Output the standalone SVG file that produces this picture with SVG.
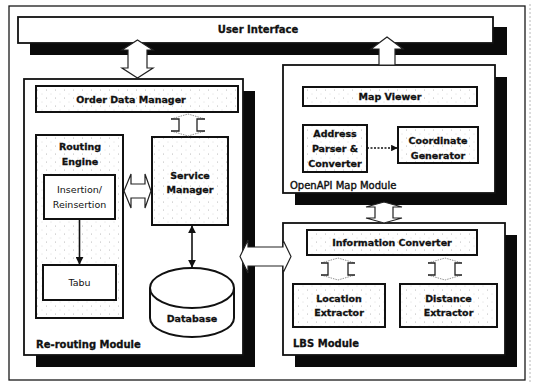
<svg xmlns="http://www.w3.org/2000/svg" width="535" height="383" viewBox="0 0 535 383">
  <style>
    .frame { fill: none; stroke: #1a1a1a; stroke-width: 1.3; }
    .module { fill: #fff; stroke: #111; stroke-width: 1.8; }
    .shadow { fill: #0a0a0a; }
    .box { fill: url(#stipple); stroke: #111; stroke-width: 2; }
    .plain { fill: #fff; stroke: #111; stroke-width: 2; }
    .hollow { fill: #fff; stroke: #222; stroke-width: 1.2; }
    .tip { fill: none; stroke: #888; stroke-width: 0.9; stroke-dasharray: 1.5 1; }
    .brk { fill: none; stroke: #222; stroke-width: 1.3; }
    .link { fill: none; stroke: #111; stroke-width: 1.6; }
    text { font-family: "DejaVu Sans", Verdana, sans-serif; fill: #111; }
    .b { font-weight: bold; font-size: 9.5px; text-anchor: middle; stroke: #111; stroke-width: 0.3; }
    .r { font-size: 9.5px; text-anchor: middle; }
    .lbl { font-weight: bold; font-size: 10px; stroke: #111; stroke-width: 0.3; }
  </style>
  <defs>
    <pattern id="stipple" width="9" height="8" patternUnits="userSpaceOnUse">
      <rect width="9" height="8" fill="#fff"/>
      <circle cx="1.5" cy="2" r="0.5" fill="#a5a5a5"/>
      <circle cx="6" cy="6" r="0.45" fill="#bbb"/>
    </pattern>
    <marker id="head" viewBox="0 0 10 10" refX="9" refY="5" markerWidth="5" markerHeight="5" orient="auto-start-reverse">
      <path d="M0,0 L10,5 L0,10 z" fill="#111"/>
    </marker>
  </defs>

  <!-- outer frame -->
  <rect class="frame" x="9" y="6" width="516" height="374"/>
  <line x1="530" y1="4" x2="530" y2="383" stroke="#b5b5b5" stroke-width="1" stroke-dasharray="2 2"/>

  <!-- User Interface -->
  <g id="user-interface">
    <rect class="shadow" x="30" y="27" width="477" height="28"/>
    <rect class="module" x="18" y="17" width="475" height="26"/>
    <text class="lbl" x="258" y="33" text-anchor="middle">User Interface</text>
  </g>

  <!-- Re-routing Module -->
  <g id="rerouting-module">
    <rect class="shadow" x="36" y="91" width="219" height="276"/>
    <rect class="module" x="24" y="79" width="219" height="276"/>
    <text class="lbl" x="36" y="348">Re-routing Module</text>
  </g>
  <g id="order-data-manager">
    <rect class="box" x="36" y="86" width="202" height="26"/>
    <text class="b" x="131" y="103">Order Data Manager</text>
  </g>
  <g id="routing-engine">
    <rect class="box" x="36" y="135" width="87" height="183"/>
    <text class="b" x="80" y="150">Routing</text>
    <text class="b" x="80" y="165">Engine</text>
  </g>
  <g id="insertion">
    <rect class="plain" x="44" y="175" width="71" height="44"/>
    <text class="r" x="79.5" y="193">Insertion/</text>
    <text class="r" x="79.5" y="208">Reinsertion</text>
  </g>
  <g id="tabu">
    <rect class="plain" x="43" y="265" width="73" height="35"/>
    <text class="r" x="79.5" y="286">Tabu</text>
  </g>
  <g id="service-manager">
    <rect class="box" x="152" y="137" width="76" height="88"/>
    <text class="b" x="190" y="179">Service</text>
    <text class="b" x="190" y="193">Manager</text>
  </g>
  <g id="database">
    <path class="plain" d="M150,288 L150,318 A42,19 0 0 0 234,318 L234,288"/>
    <ellipse class="plain" cx="192" cy="288" rx="42" ry="20"/>
    <text class="b" x="192" y="322">Database</text>
  </g>

  <!-- OpenAPI Map Module -->
  <g id="openapi-map-module">
    <rect class="shadow" x="295" y="77" width="212" height="128"/>
    <rect class="module" x="283" y="65" width="212" height="128"/>
    <text x="290" y="189" font-size="10" stroke="#111" stroke-width="0.4">OpenAPI Map Module</text>
  </g>
  <g id="map-viewer">
    <rect class="box" x="303" y="87" width="174" height="19"/>
    <text class="b" x="390" y="100">Map Viewer</text>
  </g>
  <g id="address-parser">
    <rect class="box" x="303" y="125" width="64" height="47"/>
    <text class="b" x="335" y="137">Address</text>
    <text class="b" x="335" y="152">Parser &amp;</text>
    <text class="b" x="335" y="167">Converter</text>
  </g>
  <g id="coordinate-generator">
    <rect class="box" x="398" y="127" width="80" height="36"/>
    <text class="b" x="438" y="144">Coordinate</text>
    <text class="b" x="438" y="159">Generator</text>
  </g>

  <!-- LBS Module -->
  <g id="lbs-module">
    <rect class="shadow" x="295" y="235" width="222" height="132"/>
    <rect class="module" x="283" y="223" width="222" height="132"/>
    <text class="lbl" x="293" y="347">LBS Module</text>
  </g>
  <g id="information-converter">
    <rect class="box" x="307" y="230" width="170" height="25"/>
    <text class="b" x="392" y="246">Information Converter</text>
  </g>
  <g id="location-extractor">
    <rect class="box" x="293" y="284" width="92" height="43"/>
    <text class="b" x="339" y="302">Location</text>
    <text class="b" x="339" y="316">Extractor</text>
  </g>
  <g id="distance-extractor">
    <rect class="box" x="400" y="284" width="97" height="43"/>
    <text class="b" x="448.5" y="302">Distance</text>
    <text class="b" x="448.5" y="316">Extractor</text>
  </g>

  <!-- connectors -->
  <g id="connectors">
    <!-- User Interface <-> Order Data Manager -->
    <path class="hollow" d="M137.5,40 L153,50 L147,50 L147,68 L153,68 L137.5,78 L122,68 L128,68 L128,50 L122,50 Z"/>
    <!-- Map module -> User Interface -->
    <path class="hollow" d="M387,37 L403,49 L395,49 L395,65 L379,65 L379,49 L371,49 Z"/>
    <!-- Re-routing Module <-> LBS Module -->
    <path class="hollow" d="M240,256.5 L248,240 L248,247 L283,247 L283,240 L291,256.5 L283,273 L283,266 L248,266 L248,273 Z"/>
    <!-- Routing Engine <-> Service Manager -->
    <path class="hollow" d="M124,191 L131,174 L131,184 L145,184 L145,174 L151,191 L145,208 L145,198 L131,198 L131,208 Z"/>
    <!-- Map module <-> LBS Module -->
    <path class="hollow" d="M384,202 L402,207 L393,207 L393,218 L402,218 L384,223 L366,218 L375,218 L375,207 L366,207 Z"/>

    <!-- Order Data Manager <-> Service Manager -->
    <path class="tip" d="M171,119 L188,114 L205,119 M171,131 L188,136 L205,131"/>
    <path class="brk" d="M171,119 L179,119 L179,131 L171,131 M205,119 L197,119 L197,131 L205,131"/>
    <!-- Information Converter <-> Location Extractor -->
    <path class="tip" d="M321,263 L338,258 L355,263 M321,275 L338,280 L355,275"/>
    <path class="brk" d="M321,263 L328,263 L328,275 L321,275 M355,263 L348,263 L348,275 L355,275"/>
    <!-- Information Converter <-> Distance Extractor -->
    <path class="tip" d="M428,263 L445,258 L462,263 M428,275 L445,280 L462,275"/>
    <path class="brk" d="M428,263 L435,263 L435,275 L428,275 M462,263 L455,263 L455,275 L462,275"/>

    <!-- Insertion/Reinsertion -> Tabu -->
    <line class="link" x1="79.5" y1="219" x2="79.5" y2="264" marker-end="url(#head)"/>
    <!-- Service Manager <-> Database -->
    <line class="link" x1="192" y1="226" x2="192" y2="267" marker-start="url(#head)" marker-end="url(#head)"/>
    <!-- Address Parser -> Coordinate Generator -->
    <line x1="367" y1="148" x2="397" y2="148" stroke="#111" stroke-width="1.3" stroke-dasharray="2 1.5" marker-end="url(#head)"/>
  </g>
</svg>
